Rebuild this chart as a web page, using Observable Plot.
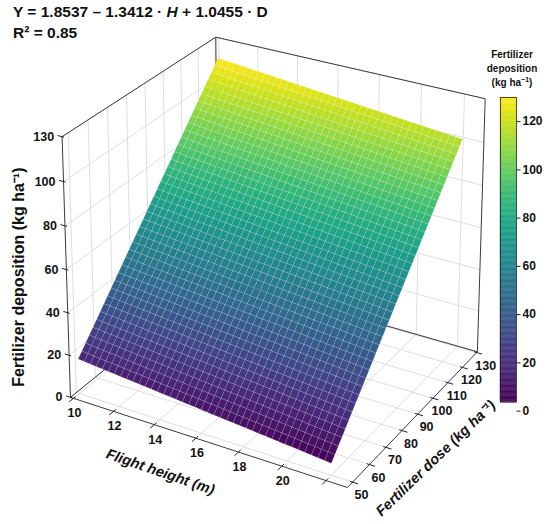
<!DOCTYPE html>
<html><head><meta charset="utf-8">
<script src="https://cdn.jsdelivr.net/npm/d3@7"></script>
<script src="https://cdn.jsdelivr.net/npm/@observablehq/plot@0.6"></script>
<style>
html,body{margin:0;padding:0;background:#fff;}
#wrap{position:relative;width:550px;height:524px;overflow:hidden;font-family:Arial,"Liberation Sans",Helvetica,sans-serif;color:#111;}
#main{position:absolute;left:0;top:0;}
#cb{position:absolute;left:480px;top:80px;}
#title{position:absolute;left:13px;top:2px;font-weight:bold;font-size:15.5px;line-height:20.5px;white-space:nowrap;}
#cbtitle{position:absolute;left:472px;top:47.5px;width:80px;text-align:center;font-weight:bold;font-size:10px;line-height:14px;white-space:nowrap;}
#cbtitle sup{font-size:7px;line-height:0;vertical-align:4px;}
</style></head><body>
<div id="wrap">
  <div id="main"></div>
  <div id="cb"></div>
  <div id="title">Y = 1.8537 – 1.3412 · <i>H</i> + 1.0455 · D<br>R² = 0.85</div>
  <div id="cbtitle">Fertilizer<br>deposition<br>(kg ha<sup>−1</sup>)</div>
</div>
<script>
// ---------- data ----------
const flightHeightTicks = [10, 12, 14, 16, 18, 20, 22];
const flightHeightLabels = ["10", "12", "14", "16", "18", "20", ""];
const doseTicks = [50, 60, 70, 80, 90, 100, 110, 120, 130];
const doseLabels = ["50", "60", "70", "80", "90", "100", "110", "120", "130"];
const depositionTicks = [0, 20, 40, 60, 80, 100, 120];
const depositionLabels = ["0", "20", "40", "60", "80", "100", "130"];
const colorbarTicks = [0, 20, 40, 60, 80, 100, 120];
const colorbarLabels = ["0", "20", "40", "60", "80", "100", "120"];
const colorbarRange = [3.7, 130];
// axis extents of the 3D box
const heightAxis = [9.85, 22.95];
const doseAxis = [47, 130.5];
const depAxis = [0, 120];
// fitted plane drawn in the figure (extent and coefficients)
const surfaceHeight = [10, 22];
const surfaceDose = [50, 130];
const planeCoef = [-33.08, -0.917, 1.175]; // intercept, per m of flight height, per kg of dose

// ---------- 3D camera ----------
const camera = {azimuth: 30, viewElevation: 28, planeElevation: 18.5, distance: 15, focal: 2331, cx: 277, cy: -142.3};
const boxHalf = [1, 0.9, 0.91];
const rad = Math.PI / 180;
const th = camera.azimuth * rad, ev = camera.viewElevation * rad, ea = camera.planeElevation * rad;
const R = [Math.cos(th), Math.sin(th), 0];
const U = [-Math.sin(th) * Math.sin(ea), Math.cos(th) * Math.sin(ea), Math.cos(ea)];
const Fw = [-Math.sin(th) * Math.cos(ea), Math.cos(th) * Math.cos(ea), -Math.sin(ea)];
const Fv = [-Math.sin(th) * Math.cos(ev), Math.cos(th) * Math.cos(ev), -Math.sin(ev)];
const camPos = Fv.map(v => -camera.distance * v);
const dot = (a, b) => a[0] * b[0] + a[1] * b[1] + a[2] * b[2];
const norm = (v, [a, b], half) => ((v - (a + b) / 2) / ((b - a) / 2)) * half;
function project(h, d, z) {
  const p = [norm(h, heightAxis, boxHalf[0]), norm(d, doseAxis, boxHalf[1]), norm(z, depAxis, boxHalf[2])];
  const q = p.map((v, i) => v - camPos[i]);
  const w = dot(q, Fw);
  return [camera.cx + camera.focal * dot(q, R) / w, camera.cy - camera.focal * dot(q, U) / w];
}
const plane = (h, d) => planeCoef[0] + planeCoef[1] * h + planeCoef[2] * d;
const seg = (a, b) => { const p = project(...a), q = project(...b); return {x1: p[0], y1: p[1], x2: q[0], y2: q[1]}; };

const [h0, h1] = heightAxis, [d0, d1] = doseAxis, [z0, z1] = depAxis;

// pane grid lines
const grid = [];
for (const h of flightHeightTicks) {
  grid.push(seg([h, d0, z0], [h, d1, z0]));
  grid.push(seg([h, d1, z0], [h, d1, z1]));
}
for (const d of doseTicks) {
  grid.push(seg([h0, d, z0], [h1, d, z0]));
  grid.push(seg([h0, d, z0], [h0, d, z1]));
}
for (const z of depositionTicks) {
  grid.push(seg([h0, d0, z], [h0, d1, z]));
  grid.push(seg([h0, d1, z], [h1, d1, z]));
}
// pane edges
const A = [h0, d0, z0], B = [h1, d0, z0], C = [h1, d1, z0], D = [h0, d1, z0];
const At = [h0, d0, z1], Ct = [h1, d1, z1], Dt = [h0, d1, z1];
const edges = [seg(C, D), seg(D, A), seg(D, Dt), seg(A, B), seg(B, C), seg(A, At), seg(At, Dt), seg(Dt, Ct), seg(Ct, C)];

// surface mesh
const nH = 40, nD = 40;
const surface = [];
let id = 0;
for (let i = 0; i < nH; i++) {
  for (let j = 0; j < nD; j++) {
    const ha = surfaceHeight[0] + (surfaceHeight[1] - surfaceHeight[0]) * i / nH;
    const hb = surfaceHeight[0] + (surfaceHeight[1] - surfaceHeight[0]) * (i + 1) / nH;
    const da = surfaceDose[0] + (surfaceDose[1] - surfaceDose[0]) * j / nD;
    const db = surfaceDose[0] + (surfaceDose[1] - surfaceDose[0]) * (j + 1) / nD;
    const v = plane((ha + hb) / 2, (da + db) / 2);
    for (const [h, d] of [[ha, da], [hb, da], [hb, db], [ha, db], [ha, da]]) {
      const [x, y] = project(h, d, plane(h, d));
      surface.push({id, x, y, v});
    }
    id++;
  }
}
const corners = [];
for (const h of surfaceHeight) for (const d of surfaceDose) corners.push(plane(h, d));
const colorDomain = d3.extent(corners);

// ticks & labels
const hTickData = flightHeightTicks.map((h, i) => ({...seg([h, d0 + 1.2, z0], [h, d0 - 2.2, z0]), label: flightHeightLabels[i]}));
const dTickData = doseTicks.map((d, i) => ({...seg([h1 - 0.12, d, z0], [h1 + 0.25, d, z0]), label: doseLabels[i]}));
const zTickData = depositionTicks.map((z, i) => ({...seg([h0 + 0.1, d0, z], [h0 - 0.22, d0, z]), label: depositionLabels[i]}));
const hTickLab = flightHeightTicks.map((h, i) => { const [x, y] = project(h, d0, z0); return {x, y, label: flightHeightLabels[i]}; });
const dTickLab = doseTicks.map((d, i) => { const [x, y] = project(h1, d, z0); return {x, y, label: doseLabels[i]}; });
const zTickLab = depositionTicks.map((z, i) => { const [x, y] = project(h0, d0, z); return {x, y, label: depositionLabels[i]}; });
const labH = project((h0 + h1) / 2, d0, z0), labD = project(h1, (d0 + d1) / 2, z0), labZ = project(h0, d0, (z0 + z1) / 2);

const font = "Arial, 'Liberation Sans', Helvetica, sans-serif";
const ink = "#111";

const main = Plot.plot({
  width: 550, height: 524, margin: 0,
  style: {fontFamily: font, background: "transparent", color: ink},
  x: {domain: [0, 550], range: [0, 550], axis: null},
  y: {domain: [0, 524], range: [0, 524], axis: null},
  color: {type: "linear", scheme: "viridis", domain: colorDomain},
  marks: [
    Plot.link(grid, {x1: "x1", y1: "y1", x2: "x2", y2: "y2", stroke: "#d6d6d6", strokeWidth: 0.8}),
    Plot.link(edges, {x1: "x1", y1: "y1", x2: "x2", y2: "y2", stroke: "#3a3a3a", strokeWidth: 1}),
    Plot.line(surface, {x: "x", y: "y", z: "id", fill: "v", stroke: "white", strokeOpacity: 0.22, strokeWidth: 0.5, curve: "linear"}),
    Plot.link([...hTickData, ...dTickData, ...zTickData], {x1: "x1", y1: "y1", x2: "x2", y2: "y2", stroke: "#222", strokeWidth: 1}),
    Plot.text(hTickLab, {x: "x", y: "y", text: "label", dx: 1, dy: 15, fontSize: 12.5, fontWeight: "bold", fill: ink}),
    Plot.text(dTickLab, {x: "x", y: "y", text: "label", dx: 9, dy: 13, fontSize: 12.5, fontWeight: "bold", fill: ink}),
    Plot.text(zTickLab, {x: "x", y: "y", text: "label", dx: -8, textAnchor: "end", fontSize: 12.5, fontWeight: "bold", fill: ink}),
    Plot.text([{x: labH[0], y: labH[1]}], {x: "x", y: "y", text: () => "Flight height (m)", dx: -44, dy: 31, rotate: 19, fontSize: 14.5, fontWeight: "bold", fontStyle: "italic", fill: ink}),
    Plot.text([{x: labD[0], y: labD[1]}], {x: "x", y: "y", text: () => "Fertilizer dose (kg ha⁻¹)", dx: 20, dy: 42, rotate: -44, fontSize: 14.5, fontWeight: "bold", fontStyle: "italic", fill: ink}),
    Plot.text([{x: labZ[0], y: labZ[1]}], {x: "x", y: "y", text: () => "Fertilizer deposition (kg ha⁻¹)", dx: -47.5, dy: 7.5, rotate: -90, fontSize: 16, fontWeight: "bold", fill: ink})
  ]
});
document.getElementById("main").appendChild(main);

// colorbar
const step = 0.5;
const cbData = d3.range(colorbarRange[0], colorbarRange[1], step).map(v => ({y1: v, y2: Math.min(v + step, colorbarRange[1]), v: Math.min(v + step / 2, colorbarRange[1])}));
const cbTicks = colorbarTicks.map((t, i) => ({t, label: colorbarLabels[i]}));
const cb = Plot.plot({
  width: 70, height: 340, marginLeft: 20, marginRight: 34, marginTop: 17, marginBottom: 18.3,
  style: {fontFamily: font, background: "transparent", color: ink, overflow: "visible"},
  x: {domain: [0, 1], axis: null},
  y: {domain: colorbarRange, axis: null},
  color: {type: "linear", scheme: "viridis", domain: colorbarRange},
  marks: [
    Plot.rect(cbData, {x1: 0, x2: 1, y1: "y1", y2: "y2", fill: "v", stroke: "v", strokeWidth: 0.4}),
    Plot.frame({stroke: "#222", strokeWidth: 0.8}),
    Plot.link(cbTicks, {x1: 1, x2: 1.25, y1: "t", y2: "t", stroke: "#222", strokeWidth: 1}),
    Plot.text(cbTicks, {x: 1.25, y: "t", text: "label", dx: 2, textAnchor: "start", fontSize: 12, fontWeight: "bold", fill: ink})
  ]
});
document.getElementById("cb").appendChild(cb);
</script>
</body></html>
